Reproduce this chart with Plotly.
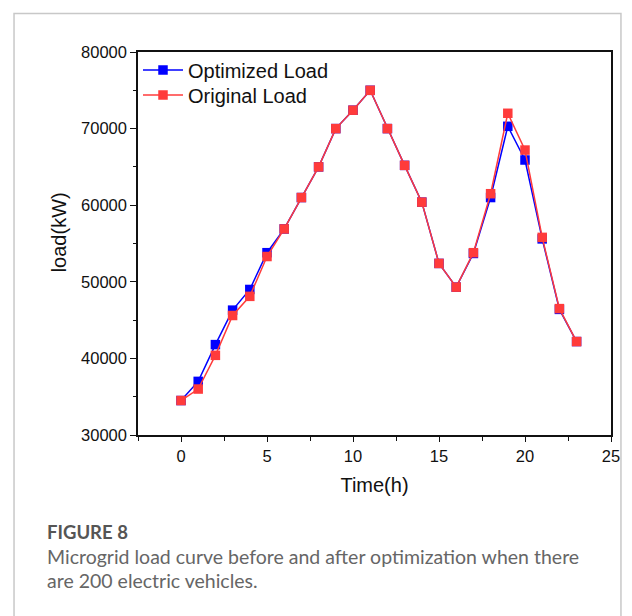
import plotly.graph_objects as go

hours = list(range(24))
optimized_load = [34500, 37000, 41800, 46300, 49000, 53800, 56900, 61000, 65000, 70000,
                  72400, 75000, 70000, 65200, 60400, 52400, 49300, 53700, 61000, 70300,
                  65900, 55600, 46400, 42200]
original_load = [34500, 36000, 40400, 45600, 48100, 53300, 56900, 61000, 65000, 70000,
                 72400, 75000, 70000, 65200, 60400, 52400, 49300, 53800, 61500, 72000,
                 67200, 55800, 46500, 42200]
caption_title = "FIGURE 8"
caption_lines = ["Microgrid load curve before and after optimization when there",
                 "are 200 electric vehicles."]

L, R, T, B = 138, 613, 52, 435
W, H = 632, 616

def px(x):
    return (x - L) / (R - L)

def py(y):
    return (B - y) / (B - T)

FONT = "Arial"

fig = go.Figure()
fig.add_trace(go.Scatter(x=hours, y=optimized_load, mode="lines+markers", name="Optimized Load",
                         line=dict(color="#0000FF", width=1.5), legend="legend",
                         marker=dict(symbol="square", size=9.5, color="#0000FF")))
fig.add_trace(go.Scatter(x=hours, y=original_load, mode="lines+markers", name="Original Load",
                         line=dict(color="#FF3B3B", width=1.5), legend="legend2",
                         marker=dict(symbol="square", size=9.5, color="#FF3B3B")))

axis_font = dict(family=FONT, size=16.5, color="#111")
leg_common = dict(x=0.0, xanchor="left", yanchor="middle",
                  font=dict(family=FONT, size=20, color="#111"),
                  bgcolor="rgba(0,0,0,0)", itemwidth=40)

annotations = [
    dict(text="load(kW)", xref="paper", yref="paper", x=px(59), y=py(232),
         xanchor="center", yanchor="middle", textangle=-90, showarrow=False,
         font=dict(family=FONT, size=20, color="#111")),
    dict(text="<b>" + caption_title + "</b>", xref="paper", yref="paper", x=px(45), y=py(532),
         xanchor="left", yanchor="middle", showarrow=False,
         font=dict(family="Lato", size=18.5, color="#555")),
]
for i, (line, yc) in enumerate(zip(caption_lines, [556, 580.5])):
    annotations.append(dict(text=line, xref="paper", yref="paper", x=px(45), y=py(yc),
                            xanchor="left", yanchor="middle", showarrow=False,
                            font=dict(family="Lato", size=19.5, color="#666")))

fig.update_layout(
    width=W, height=H,
    margin=dict(l=L, r=W - R, t=T, b=H - B),
    paper_bgcolor="white", plot_bgcolor="white",
    showlegend=True,
    legend=dict(y=py(70), **leg_common),
    legend2=dict(y=py(95), **leg_common),
    xaxis=dict(range=[-2.5, 25], tickvals=[0, 5, 10, 15, 20, 25],
               ticks="outside", ticklen=5, tickwidth=1.2, tickcolor="#111",
               minor=dict(tickvals=[-2.5, 2.5, 7.5, 12.5, 17.5, 22.5], ticks="outside", ticklen=4, tickcolor="#111"),
               showline=True, linecolor="#111", linewidth=1.5, mirror=True,
               showgrid=False, zeroline=False, tickfont=axis_font,
               title=dict(text="Time(h)", font=dict(family=FONT, size=20, color="#111"), standoff=14)),
    yaxis=dict(range=[30000, 80000], tickvals=[30000, 40000, 50000, 60000, 70000, 80000],
               tickformat="d",
               ticks="outside", ticklen=6, tickwidth=1.2, tickcolor="#111",
               minor=dict(tickvals=[35000, 45000, 55000, 65000, 75000], ticks="outside", ticklen=3, tickcolor="#111"),
               showline=True, linecolor="#111", linewidth=1.5, mirror=True,
               showgrid=False, zeroline=False, tickfont=axis_font),
    shapes=[dict(type="rect", xref="paper", yref="paper",
                 x0=px(13.5), x1=px(623), y0=py(640), y1=py(13.5),
                 line=dict(color="#c8c8c8", width=1.5), layer="below")],
    annotations=annotations,
)

fig.write_html("out.html")
